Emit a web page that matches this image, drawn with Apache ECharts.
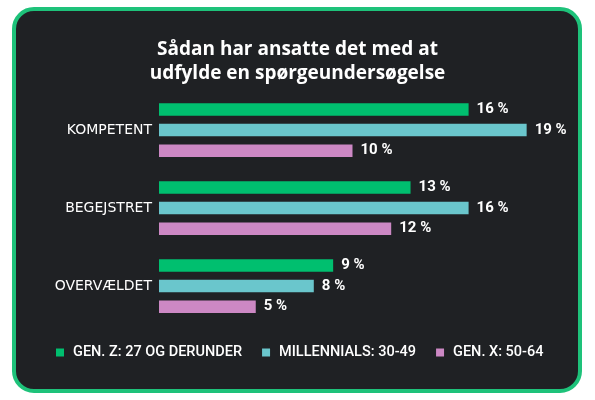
<!DOCTYPE html>
<html>
<head>
<meta charset="utf-8">
<script src="https://cdn.jsdelivr.net/npm/echarts@6/dist/echarts.min.js"></script>
<style>
html,body{margin:0;padding:0;background:#ffffff;}
#chart{width:595px;height:400px;}
</style>
</head>
<body>
<div id="chart"></div>
<script>
const categories = ['KOMPETENT', 'BEGEJSTRET', 'OVERVÆLDET'];
const seriesNames = ['GEN. Z: 27 OG DERUNDER', 'MILLENNIALS: 30-49', 'GEN. X: 50-64'];
const genZ = [16, 13, 9];
const millennials = [19, 16, 8];
const genX = [10, 12, 5];
const colors = ['#00bf6f', '#6ac6cc', '#cc88c4'];
const titleText = 'Sådan har ansatte det med at\nudfylde en spørgeundersøgelse';

const chart = echarts.init(document.getElementById('chart'));
const font = 'Roboto';
function barSeries(name, data, color) {
  return {
    name: name,
    type: 'bar',
    data: data,
    barWidth: 12.5,
    barGap: '65%',
    itemStyle: { color: color },
    label: {
      show: true,
      position: 'right',
      distance: 8,
      formatter: '{c} %',
      color: '#ffffff',
      fontFamily: font,
      fontWeight: 'bold',
      fontSize: 15
    }
  };
}
chart.setOption({
  backgroundColor: '#ffffff',
  graphic: [{
    type: 'rect',
    z: -10,
    silent: true,
    shape: { x: 14, y: 9, width: 566, height: 382, r: 20 },
    style: { fill: '#1f2124', stroke: '#1ec27a', lineWidth: 4 }
  }],
  title: {
    text: titleText,
    left: 'center',
    top: 33,
    textStyle: {
      color: '#ffffff',
      fontFamily: 'Open Sans',
      fontWeight: 'bold',
      fontSize: 19,
      lineHeight: 24
    }
  },
  legend: {
    data: seriesNames,
    left: 51,
    top: 340,
    itemWidth: 8,
    itemHeight: 8,
    itemGap: 20,
    icon: 'rect',
    textStyle: {
      color: '#ffffff',
      fontFamily: font,
      fontSize: 14.5,
      fontWeight: 500,
      padding: [0, 0, 0, 4]
    }
  },
  grid: { left: 159, right: 49, top: 91, bottom: 75, containLabel: false },
  xAxis: {
    type: 'value',
    min: 0,
    max: 20,
    show: false
  },
  yAxis: {
    type: 'category',
    data: categories,
    inverse: true,
    axisLine: { show: false },
    axisTick: { show: false },
    axisLabel: {
      color: '#ffffff',
      fontFamily: 'DejaVu Sans',
      fontSize: 14,
      margin: 7
    }
  },
  series: [
    barSeries(seriesNames[0], genZ, colors[0]),
    barSeries(seriesNames[1], millennials, colors[1]),
    barSeries(seriesNames[2], genX, colors[2])
  ]
});
</script>
</body>
</html>
